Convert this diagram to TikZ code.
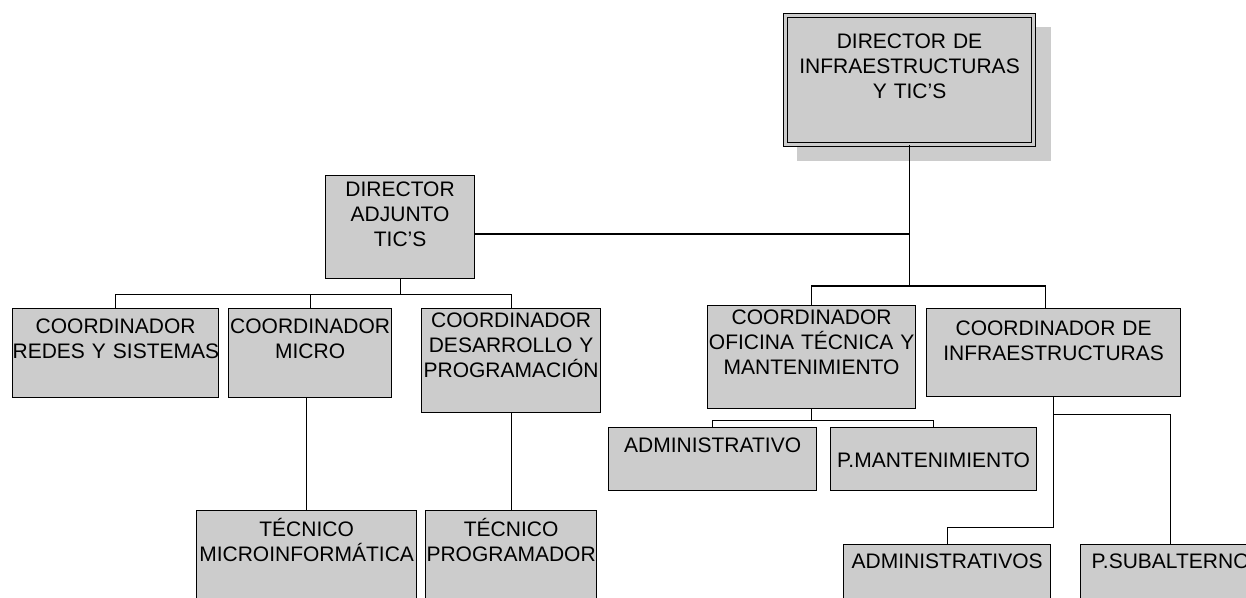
\documentclass[tikz,border=0pt]{standalone}
\usepackage{fontspec}
\setmainfont{Liberation Sans}
\usepackage{tikz}
\definecolor{cajagris}{gray}{0.8}
\tikzset{
  caja/.style={draw, line width=0.6pt, fill=cajagris, anchor=north west, inner sep=0pt,
    align=center, font=\fontsize{10.5}{12.5}\selectfont},
  enlace/.style={line width=0.6pt}
}

\begin{document}
\begin{tikzpicture}[x=0.5pt,y=-0.5pt]
    \clip (0,0) rectangle (1246,598);
    % dirección
    \fill[cajagris] (797,27) rectangle (1051,161);
    \node[caja, double=cajagris, line width=0.5pt, double distance=1.3pt, text width=124pt,
      text height=16.5pt, text depth=48pt] (dirInf) at (785,15) {DIRECTOR DE\\INFRAESTRUCTURAS\\Y TIC’S};
    \node[caja, text width=74.5pt, text height=10.5pt, text depth=41pt] (adj) at (325,175) {DIRECTOR\\ADJUNTO\\TIC’S};
    % coordinadores TIC
    \node[caja, text width=103pt, text height=12.5pt, text depth=32pt] (redes) at (12,308) {COORDINADOR\\\mbox{REDES Y SISTEMAS}};
    \node[caja, text width=81.5pt, text height=12.5pt, text depth=32pt] (micro) at (228,308) {COORDINADOR\\MICRO};
    \node[caja, text width=89.5pt, text height=9.5pt, text depth=42.5pt] (desa) at (421,308) {COORDINADOR\\DESARROLLO Y\\PROGRAMACIÓN};
    \node[caja, text width=110pt, text height=13pt, text depth=50pt] (tecMicro) at (196,510) {TÉCNICO\\MICROINFORMÁTICA};
    \node[caja, text width=85.5pt, text height=13pt, text depth=50pt] (tecProg) at (425,510) {TÉCNICO\\PROGRAMADOR};
    % coordinadores infraestructuras
    \node[caja, text width=104pt, text height=9.5pt, text depth=42pt] (ofic) at (707,305) {COORDINADOR\\\mbox{OFICINA TÉCNICA Y}\\MANTENIMIENTO};
    \node[caja, text width=127pt, text height=13.5pt, text depth=30.5pt] (infra) at (926,308) {COORDINADOR DE\\INFRAESTRUCTURAS};
    \node[caja, text width=104pt, text height=12.5pt, text depth=19pt] (admin) at (608,427) {ADMINISTRATIVO};
    \node[caja, text width=103pt, text height=20pt, text depth=11.5pt] (pmant) at (830,427) {P.MANTENIMIENTO};
    \node[caja, text width=103.5pt, text height=12pt, text depth=50pt] (admins) at (843,544) {ADMINISTRATIVOS};
    \node[caja, text width=90pt, text height=12pt, text depth=50pt] (psub) at (1080,544) {P.SUBALTERNO};
    % líneas
    \draw[enlace] (dirInf.south) -- ++(0,141) coordinate (cDir);
    \draw[enlace] (ofic.north) |- (cDir) -| ([xshift=-4pt]infra.north);
    \draw[enlace] (adj.east |- 0,234) -- (dirInf.south |- 0,234);
    \draw[enlace] (adj.south) -- ++(0,15) coordinate (cAdj);
    \draw[enlace] (redes.north) |- (cAdj) -| (desa.north);
    \draw[enlace] (micro.north) -- (micro.north |- cAdj);
    \draw[enlace] (micro.south -| tecMicro.north) -- (tecMicro.north);
    \draw[enlace] (desa.south) -- (tecProg.north);
    \draw[enlace] (ofic.south) -- ++(0,11) coordinate (cOfic);
    \draw[enlace] (admin.north) |- (cOfic) -| (pmant.north);
    \draw[enlace] (infra.south) -- ++(0,17) coordinate (cInf) -| (psub.north);
    \draw[enlace] (cInf) -- ++(0,113) -| (admins.north);
\end{tikzpicture}
\end{document}
